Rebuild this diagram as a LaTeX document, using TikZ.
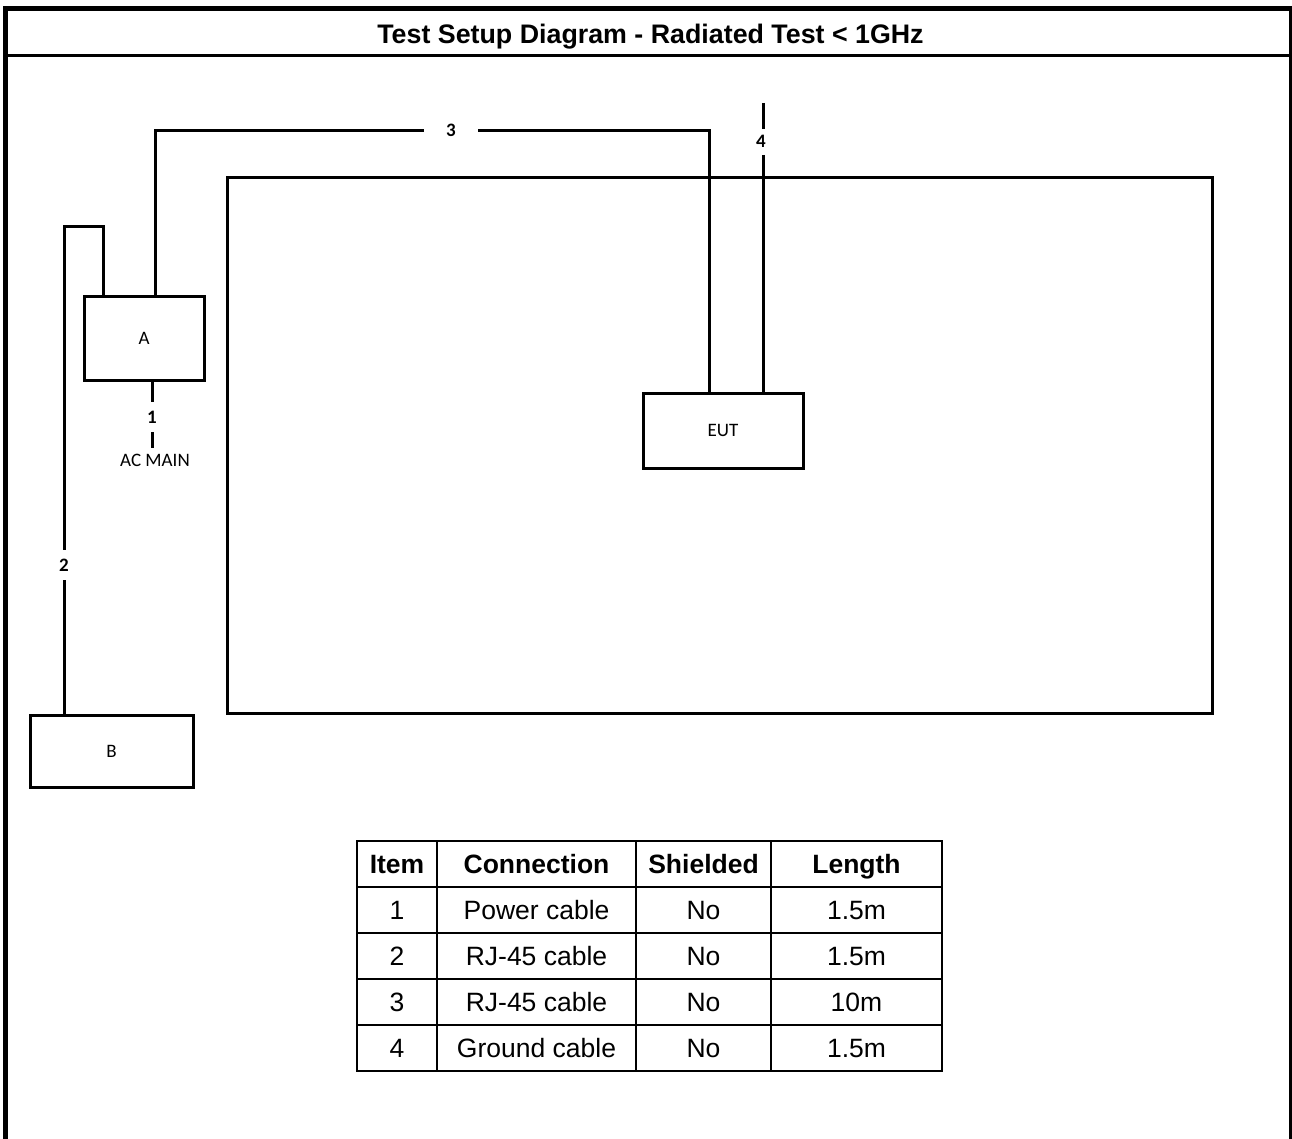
\documentclass[tikz,border=0pt]{standalone}
\usepackage{fontspec}
\setmainfont{Liberation Sans}
\newfontfamily\calib{Carlito}
\usetikzlibrary{calc,positioning}

\begin{document}
\begin{tikzpicture}[x=1pt,y=1pt,
  cable/.style={line width=3pt},
  unit/.style={draw, line width=3pt, inner sep=0pt, outer sep=0pt,
    text height=12pt, text depth=0pt, font=\calib\fontsize{19}{22}\selectfont},
  tag/.style={inner sep=0pt, outer sep=0pt, text height=12pt, text depth=0pt,
    font=\calib\bfseries\fontsize{19}{22}\selectfont},
  cell/.style={inner sep=0pt, text height=19pt, text depth=0pt,
    font=\fontsize{26.5}{30}\selectfont},
  head/.style={cell, font=\bfseries\fontsize{26.5}{30}\selectfont}]
\useasboundingbox (0,0) rectangle (1292,-1139);
% frame and title bar
\draw [line width=5pt] (5.5,-1139) -- (5.5,-8.5) -- (1290,-8.5);
\draw [line width=3pt] (1290,-6) -- (1290,-1139);
\draw [line width=3pt] (3,-56) -- (1290,-56);
\node [head, font=\bfseries\fontsize{26.8}{30}\selectfont] (title) at (650.5,-34) {Test Setup Diagram - Radiated Test < 1GHz};

% ground plane and units
\node [unit, minimum width=985, minimum height=535] (plane) at (719.5,-445.5) {};
\node [unit, minimum width=120, minimum height=83] (A) at (144,-338.5) {A};
\node [unit, minimum width=163, minimum height=72] (B) at (111.5,-751) {B};
\node [unit, minimum width=160, minimum height=75] (EUT) at (723,-430.5) {EUT};

% cable numbers
\node [tag, minimum height=30] (n1) at (152,-417) {1};
\node [unit, draw=none] (mains) at (155,-460) {AC MAIN};
\node [tag, minimum height=30] (n2) at (64,-565) {2};
\node [tag, minimum width=54] (n3) at (451,-131) {3};
\node [tag, minimum height=26] (n4) at (761,-142) {4};
\coordinate (k2) at (64,-227);
\coordinate (k3) at (709,-131);
\coordinate (g4) at (763,-103);
\coordinate (m1) at (152,-448);

% cables
\draw [cable] (n1.north |- A.south) -- (n1.north);
\draw [cable] (n1.south) -- (m1);
\draw [cable] ($(A.north west)+(19,0)$) |- (k2) -- (n2.north);
\draw [cable] (n2.south) -- (n2.south |- B.north);
\draw [cable] ($(A.north west)+(71,0)$) |- (n3.west);
\draw [cable] (n3.east) -- (k3) -- (k3 |- EUT.north);
\draw [cable] (g4) -- (g4 |- n4.north);
\draw [cable] (g4 |- n4.south) -- (g4 |- EUT.north);

% cable table
\foreach \r in {841,887,933,979,1025,1071}
  \draw [line width=2pt] (356,-\r) -- (943,-\r);
\foreach \c in {357,437,636,771,942}
  \draw [line width=2pt] (\c,-841) -- (\c,-1071);
\foreach \n/\txt/\x in {item/Item/397, conn/Connection/536.5, shld/Shielded/703.5, len/Length/856.5}
  \node [head] (\n) at (\x,-864) {\txt};
\foreach \i/\con/\len in {1/Power cable/1.5m, 2/RJ-45 cable/1.5m, 3/RJ-45 cable/10m, 4/Ground cable/1.5m} {
  \pgfmathsetmacro\yy{-864-46*\i}
  \node [cell] (item\i) at (397,\yy) {\i};
  \node [cell] (conn\i) at (536.5,\yy) {\con};
  \node [cell] (shld\i) at (703.5,\yy) {No};
  \node [cell] (len\i) at (856.5,\yy) {\len};
}
\end{tikzpicture}
\end{document}
